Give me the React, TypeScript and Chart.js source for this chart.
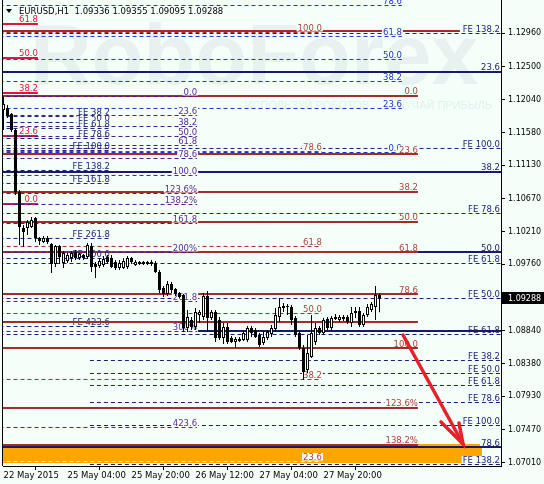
import React, { useEffect, useRef } from 'react';
import { Chart, registerables } from 'chart.js';

Chart.register(...registerables);

// ---------- axis ranges & ticks ----------
const Y_MIN = 1.06964;
const Y_MAX = 1.13421;
const X_MIN = -0.125;
const X_MAX = 124.375;
const Y_TICKS = [1.1296, 1.125, 1.1204, 1.1158, 1.1113, 1.1067, 1.1021, 1.0976, 1.0884, 1.0838, 1.0793, 1.0747, 1.0701];
const X_TICK_BARS = [0, 16, 32, 48, 64, 80];
const X_TICK_LABELS = ['22 May 2015', '25 May 04:00', '25 May 20:00', '26 May 12:00', '27 May 04:00', '27 May 20:00'];
const TITLE = 'EURUSD,H1  1.09336 1.09355 1.09095 1.09288';
const LAST_PRICE = 1.09288;

// ---------- H1 candles (bar 0 = 22 May 12:00) ----------
const OPEN = [
  1.11897, 1.11925, 1.11842, 1.1162, 1.10761, 1.10262, 1.10262, 1.10276, 1.10401, 1.10123,
  1.10068, 1.10123, 1.1004, 1.09763, 1.10013, 1.09777, 1.09805, 1.09846, 1.09929, 1.09846,
  1.09888, 1.0986, 1.10013, 1.09763, 1.09735, 1.09749, 1.0986, 1.09846, 1.09791, 1.09708,
  1.09708, 1.09722, 1.09846, 1.09749, 1.09791, 1.09763, 1.09791, 1.09791, 1.09777, 1.09652,
  1.0943, 1.09347, 1.09486, 1.09416, 1.09361, 1.09334, 1.08876, 1.08987, 1.0889, 1.09056,
  1.09029, 1.0932, 1.09015, 1.09098, 1.08987, 1.08738, 1.0889, 1.08738, 1.08682, 1.08696,
  1.0871, 1.0871, 1.08876, 1.08849, 1.08779, 1.08668, 1.08738, 1.08793, 1.08863, 1.09029,
  1.09153, 1.09167, 1.09167, 1.09015, 1.08807, 1.08599, 1.08294, 1.08474, 1.08682, 1.08876,
  1.08807, 1.09001, 1.08876, 1.09001, 1.08987, 1.09029, 1.09029, 1.08946, 1.09084, 1.09112,
  1.08918, 1.09056, 1.09126, 1.09167, 1.09336,
];
const HIGH = [
  1.12077, 1.11966, 1.11856, 1.11634, 1.10789, 1.10304, 1.10373, 1.10415, 1.10415, 1.10137,
  1.10151, 1.10151, 1.10054, 1.10026, 1.10026, 1.09943, 1.09916, 1.09943, 1.09957, 1.09916,
  1.09902, 1.10054, 1.10054, 1.09791, 1.09846, 1.09874, 1.09888, 1.09888, 1.09819, 1.09819,
  1.09846, 1.09874, 1.0986, 1.09819, 1.09805, 1.09805, 1.09805, 1.09819, 1.09805, 1.0968,
  1.09458, 1.09528, 1.09514, 1.0943, 1.09375, 1.09347, 1.09126, 1.09029, 1.09153, 1.09126,
  1.09361, 1.09389, 1.09126, 1.09126, 1.09029, 1.08946, 1.08946, 1.08766, 1.08752, 1.08752,
  1.08835, 1.08904, 1.08904, 1.08876, 1.08807, 1.08821, 1.08849, 1.08918, 1.09153, 1.09292,
  1.09223, 1.09209, 1.09195, 1.09043, 1.08835, 1.08641, 1.08779, 1.09056, 1.08946, 1.08904,
  1.09015, 1.09029, 1.09043, 1.0907, 1.09056, 1.09056, 1.09056, 1.09167, 1.09167, 1.09167,
  1.09084, 1.09209, 1.09237, 1.09458, 1.09355,
];
const LOW = [
  1.1162, 1.11786, 1.11592, 1.10719, 1.10026, 1.09999, 1.10165, 1.10262, 1.10068, 1.10026,
  1.10054, 1.1004, 1.09638, 1.09722, 1.09763, 1.09708, 1.09777, 1.09791, 1.09819, 1.09819,
  1.09819, 1.09832, 1.09652, 1.09569, 1.09708, 1.09722, 1.09763, 1.09708, 1.0968, 1.0968,
  1.09694, 1.09694, 1.09763, 1.09735, 1.09749, 1.09749, 1.09749, 1.09735, 1.09638, 1.09361,
  1.09306, 1.0932, 1.09361, 1.0932, 1.09292, 1.08821, 1.08821, 1.08849, 1.08849, 1.08946,
  1.08987, 1.08821, 1.08987, 1.08682, 1.0871, 1.08655, 1.08655, 1.08668, 1.08599, 1.08682,
  1.08696, 1.08682, 1.08752, 1.08738, 1.08613, 1.08641, 1.0871, 1.08752, 1.08835, 1.0896,
  1.09098, 1.09056, 1.08918, 1.08752, 1.08571, 1.08156, 1.08253, 1.08461, 1.08641, 1.08779,
  1.08779, 1.08849, 1.08849, 1.08987, 1.0896, 1.08973, 1.08932, 1.0889, 1.09015, 1.0889,
  1.0889, 1.09029, 1.09098, 1.08987, 1.09095,
];
const CLOSE = [
  1.1198, 1.11814, 1.1162, 1.10761, 1.10276, 1.10207, 1.10345, 1.10373, 1.10123, 1.10082,
  1.10123, 1.10068, 1.09763, 1.10013, 1.0986, 1.09916, 1.09888, 1.09916, 1.09846, 1.09902,
  1.09846, 1.10026, 1.09722, 1.09722, 1.09805, 1.09832, 1.09791, 1.09722, 1.09708, 1.09777,
  1.09805, 1.09846, 1.09791, 1.09791, 1.09763, 1.09791, 1.09763, 1.09763, 1.09652, 1.09403,
  1.09347, 1.09486, 1.09403, 1.09347, 1.09306, 1.08876, 1.09029, 1.0889, 1.09098, 1.09098,
  1.0932, 1.09015, 1.09098, 1.08738, 1.08738, 1.0889, 1.08682, 1.08682, 1.08724, 1.08724,
  1.08807, 1.08876, 1.08807, 1.08752, 1.08641, 1.08752, 1.08821, 1.08876, 1.09056, 1.09167,
  1.09181, 1.09181, 1.08987, 1.08779, 1.08599, 1.08267, 1.0853, 1.08807, 1.08876, 1.08807,
  1.08987, 1.08876, 1.09015, 1.09029, 1.09029, 1.09001, 1.0896, 1.09084, 1.09112, 1.08918,
  1.09056, 1.09167, 1.09209, 1.09334, 1.09288,
];

// ---------- drawn objects (prices, labels, bar-index spans) ----------
const RECT_TOP = 1.07269;
const RECT_BOTTOM = 1.07006;
const RECT_SPAN = [-1, 119.6];

const LINE_TOP_LABELS = [''];
const LINE_TOP_PRICES = [1.12992];
const LINE_TOP_SPAN = [-1, 114.1];

const FE_LEFT_LABELS = ['FE 38.2', 'FE 50.0', 'FE 61.8', 'FE 78.6', 'FE 100.0', 'FE 138.2', 'FE 161.8', 'FE 261.8', 'FE 300.0', 'FE 423.6'];
const FE_LEFT_PRICES = [1.11807, 1.11724, 1.11641, 1.11502, 1.11336, 1.11059, 1.10879, 1.10117, 1.09839, 1.08897];
const FE_LEFT_SPAN = [-1, 26.6];

const FE_A_LABELS = ['FE 138.2', 'FE 100.0', 'FE 78.6', 'FE 61.8', 'FE 50.0'];
const FE_A_PRICES = [1.12957, 1.11364, 1.10463, 1.0977, 1.09285];
const FE_A_SPAN = [-1, 126];

const FE_C_LABELS = ['FE 61.8'];
const FE_C_PRICES = [1.08786];
const FE_C_SPAN = [-1, 126];

const FE_B_LABELS = ['FE 38.2', 'FE 50.0', 'FE 61.8', 'FE 78.6', 'FE 100.0', 'FE 138.2'];
const FE_B_PRICES = [1.08426, 1.08246, 1.0808, 1.07844, 1.07525, 1.06985];
const FE_B_SPAN = [21.6, 126];

const NAVY_LABELS = ['23.6', '38.2', '50.0', '', '78.6'];
const NAVY_PRICES = [1.12424, 1.11038, 1.09929, 1.08835, 1.07227];
const NAVY_FROM = [-1, -1, -1, 48.6, -1];
const NAVY_SPAN = [-1, 126];

const CRIMSON_LABELS = ['61.8', '50.0', '38.2', '23.6', '0.0'];
const CRIMSON_PRICES = [1.13089, 1.12618, 1.12133, 1.11537, 1.10595];
const CRIMSON_SPAN = [-1, 8.6];

const BLUE_LABELS = ['78.6', '61.8', '50.0', '38.2', '23.6', '0.0'];
const BLUE_PRICES = [1.13345, 1.12916, 1.12597, 1.12292, 1.11918, 1.11308];
const BLUE_SPAN = [-1, 99.6];

const BROWN_LABELS = ['0.0', '23.6', '38.2', '50.0', '61.8', '78.6', '', '100.0', '123.6%', '138.2%'];
const BROWN_PRICES = [1.12091, 1.11287, 1.10761, 1.10345, 1.09929, 1.09347, 1.08959, 1.08599, 1.07768, 1.07255];
const BROWN_SPAN = [-1, 103.6];

const BROWN_DASH_LABELS = ['100.0', '78.6', '61.8', '50.0', '38.2', '23.6'];
const BROWN_DASH_PRICES = [1.12971, 1.11322, 1.10006, 1.09077, 1.08163, 1.07026];
const BROWN_DASH_SPAN = [-1, 79.6];

const PURPLE_LABELS = ['0.0', '23.6', '38.2', '50.0', '61.8', '78.6', '100.0', '123.6%', '138.2%', '161.8', '200%', '261.8', '300%', '423.6'];
const PURPLE_PRICES = [1.12084, 1.11821, 1.11668, 1.1153, 1.11405, 1.11225, 1.1099, 1.1074, 1.10588, 1.10324, 1.09923, 1.09244, 1.08828, 1.07498];
const PURPLE_SPAN = [-1, 48.4];

const ARROW_SHAFT = [{ x: 99.875, y: 1.08779 }, { x: 114.875, y: 1.07269 }];
const ARROW_HEAD = [{ x: 109.375, y: 1.07574 }, { x: 114.875, y: 1.07269 }, { x: 113.875, y: 1.0756 }];

// ---------- styles ----------
const BG = '#F5FFFA';
const LABEL_FONT = '8.5px "DejaVu Sans"';
const STYLES: any = {
  feNavy: { color: '#1C1C78', width: 1, dash: [4, 3], text: '#1C1C78' },
  navySolid: { color: '#191970', width: 2, dash: [], text: '#191970' },
  crimson: { color: '#E0143C', width: 2, dash: [], text: '#E0143C' },
  blueDash: { color: '#2233CC', width: 1, dash: [4, 3], text: '#2233CC' },
  brownSolid: { color: '#A52A2A', width: 2, dash: [], text: '#A8433A' },
  brownDash: { color: '#A52A2A', width: 1, dash: [4, 3], text: '#A8433A' },
  purpleDash: { color: '#4B1A8C', width: 1, dash: [4, 3], text: '#5A2A9A' },
};
const BROWN_DASH_LINE_COLORS = ['', '', '', '', '', '#FFF3DC'];

const GROUPS: any[] = [
  { style: 'brownSolid', labels: LINE_TOP_LABELS, prices: LINE_TOP_PRICES, span: LINE_TOP_SPAN },
  { style: 'feNavy', labels: FE_LEFT_LABELS, prices: FE_LEFT_PRICES, span: FE_LEFT_SPAN },
  { style: 'feNavy', labels: FE_A_LABELS, prices: FE_A_PRICES, span: FE_A_SPAN },
  { style: 'feNavy', labels: FE_C_LABELS, prices: FE_C_PRICES, span: FE_C_SPAN },
  { style: 'feNavy', labels: FE_B_LABELS, prices: FE_B_PRICES, span: FE_B_SPAN },
  { style: 'navySolid', labels: NAVY_LABELS, prices: NAVY_PRICES, span: NAVY_SPAN, from: NAVY_FROM },
  { style: 'crimson', labels: CRIMSON_LABELS, prices: CRIMSON_PRICES, span: CRIMSON_SPAN },
  { style: 'blueDash', labels: BLUE_LABELS, prices: BLUE_PRICES, span: BLUE_SPAN },
  { style: 'brownSolid', labels: BROWN_LABELS, prices: BROWN_PRICES, span: BROWN_SPAN },
  { style: 'brownDash', labels: BROWN_DASH_LABELS, prices: BROWN_DASH_PRICES, span: BROWN_DASH_SPAN, lineColors: BROWN_DASH_LINE_COLORS },
  { style: 'purpleDash', labels: PURPLE_LABELS, prices: PURPLE_PRICES, span: PURPLE_SPAN },
];

function buildDatasets() {
  const ds: any[] = [];
  let seq = 0;
  const push = (d: any) => {
    d.order = 10000 - seq++;
    ds.push(d);
  };
  push({
    type: 'line',
    data: [{ x: RECT_SPAN[0], y: RECT_TOP }, { x: RECT_SPAN[1], y: RECT_TOP }],
    borderWidth: 1,
    borderColor: 'rgba(0,0,0,0)',
    pointRadius: 0,
    fill: { value: RECT_BOTTOM },
    backgroundColor: '#FFA500',
    clip: 0,
  });
  GROUPS.forEach((g, gi) => {
    const st = STYLES[g.style];
    g.prices.forEach((p: number, li: number) => {
      const from = g.from ? g.from[li] : g.span[0];
      const color = (g.lineColors && g.lineColors[li]) || st.color;
      push({
        type: 'line',
        data: [{ x: from, y: p }, { x: g.span[1], y: p }],
        borderColor: color,
        borderWidth: st.width,
        borderDash: st.dash,
        pointRadius: 0,
        fill: false,
        clip: 0,
        labelGroup: li === g.prices.length - 1 ? gi : undefined,
      });
    });
  });
  const idx = OPEN.map((_, i) => i);
  ds.push({
    type: 'bar',
    data: idx.map((i) => ({ x: i, y: [LOW[i], HIGH[i]] })),
    backgroundColor: '#000000',
    borderWidth: 0,
    barThickness: 1,
    grouped: false,
    inflateAmount: 0,
    order: 2,
  });
  ds.push({
    type: 'bar',
    data: idx.map((i) => ({ x: i, y: [OPEN[i], CLOSE[i]] })),
    backgroundColor: idx.map((i) => (CLOSE[i] >= OPEN[i] ? '#FFFFFF' : '#000000')),
    borderColor: '#000000',
    borderWidth: 1,
    borderSkipped: false,
    barThickness: 3,
    grouped: false,
    inflateAmount: 0,
    minBarLength: 1,
    order: 1,
  });
  ds.push({
    type: 'line',
    data: ARROW_SHAFT,
    borderColor: '#E8202A',
    borderWidth: 3.5,
    pointRadius: 0,
    fill: false,
    borderCapStyle: 'round',
    order: 0,
  });
  ds.push({
    type: 'line',
    data: ARROW_HEAD,
    borderColor: '#E8202A',
    borderWidth: 3.5,
    pointRadius: 0,
    fill: false,
    borderCapStyle: 'round',
    borderJoinStyle: 'miter',
    order: -1,
  });
  return ds;
}

const bgPlugin = {
  id: 'bgFill',
  beforeDraw(chart: any) {
    const { ctx, width, height } = chart;
    ctx.save();
    ctx.fillStyle = BG;
    ctx.fillRect(0, 0, width, height);
    ctx.restore();
  },
  beforeDatasetsDraw(chart: any) {
    const { ctx } = chart;
    ctx.save();
    ctx.fillStyle = 'rgba(175,190,200,0.2)';
    ctx.font = 'bold 85px "Liberation Sans"';
    ctx.textAlign = 'left';
    ctx.textBaseline = 'alphabetic';
    ctx.fillText('RoboForex', 30, 84);
    ctx.font = '11px "Liberation Sans"';
    ctx.fillStyle = 'rgba(175,190,200,0.25)';
    ctx.textAlign = 'right';
    ctx.fillText('ИСПОЛЬЗУЙ РОБОТОВ – ПОЛУЧАЙ ПРИБЫЛЬ', 492, 109);
    ctx.restore();
  },
};

const labelPlugin = {
  id: 'fibLabels',
  afterDatasetDraw(chart: any, args: any) {
    const ds = chart.data.datasets[args.index];
    if (!ds || ds.labelGroup === undefined) return;
    const g = GROUPS[ds.labelGroup];
    const st = STYLES[g.style];
    const { ctx, chartArea } = chart;
    const xs = chart.scales.x;
    const ys = chart.scales.y;
    ctx.save();
    ctx.beginPath();
    ctx.rect(chartArea.left, chartArea.top, chartArea.right - chartArea.left, chartArea.bottom - chartArea.top);
    ctx.clip();
    ctx.font = LABEL_FONT;
    ctx.textAlign = 'right';
    ctx.textBaseline = 'alphabetic';
    g.labels.forEach((t: string, li: number) => {
      if (!t) return;
      const lx = Math.min(xs.getPixelForValue(g.span[1]), chartArea.right - 1);
      const ly = ys.getPixelForValue(g.prices[li]) - 1.5;
      const w = ctx.measureText(t).width;
      ctx.fillStyle = BG;
      ctx.fillRect(lx - w - 1, ly - 7, w + 2, 7.5);
      ctx.fillStyle = st.text;
      ctx.fillText(t, lx, ly);
    });
    ctx.restore();
  },
  afterDraw(chart: any) {
    const { ctx, chartArea } = chart;
    const ys = chart.scales.y;
    ctx.save();
    // left frame
    ctx.strokeStyle = '#000';
    ctx.lineWidth = 1;
    ctx.beginPath();
    ctx.moveTo(chartArea.left - 0.5, 0);
    ctx.lineTo(chartArea.left - 0.5, chartArea.bottom);
    ctx.stroke();
    // title
    ctx.fillStyle = '#000';
    ctx.beginPath();
    ctx.moveTo(6, 9);
    ctx.lineTo(12, 9);
    ctx.lineTo(9, 13);
    ctx.closePath();
    ctx.fill();
    ctx.font = '8.5px "DejaVu Sans"';
    ctx.textAlign = 'left';
    ctx.textBaseline = 'alphabetic';
    ctx.fillText(TITLE, 19, 13.5);
    // current price box
    const py = ys.getPixelForValue(LAST_PRICE);
    ctx.fillStyle = '#000';
    ctx.fillRect(chartArea.right + 1, Math.round(py) - 6, 43, 12);
    ctx.fillStyle = '#FFF';
    ctx.font = '8px "DejaVu Sans"';
    ctx.textBaseline = 'middle';
    ctx.fillText(LAST_PRICE.toFixed(5), chartArea.right + 7, Math.round(py) + 0.5);
    ctx.restore();
  },
};

export default function App() {
  const ref = useRef<HTMLCanvasElement>(null);
  useEffect(() => {
    document.body.style.margin = '0';
    document.body.style.background = BG;
    Chart.defaults.font.family = '"DejaVu Sans", sans-serif';
    const chart = new Chart(ref.current as HTMLCanvasElement, {
      type: 'line',
      data: { datasets: buildDatasets() },
      options: {
        animation: false,
        responsive: false,
        devicePixelRatio: 1,
        events: [],
        layout: { padding: { left: 3, top: 0, right: 0, bottom: 0 } },
        plugins: { legend: { display: false }, tooltip: { enabled: false }, title: { display: false } },
        scales: {
          x: {
            type: 'linear',
            position: 'bottom',
            min: X_MIN,
            max: X_MAX,
            offset: false,
            afterBuildTicks: (s: any) => {
              s.ticks = X_TICK_BARS.map((v) => ({ value: v }));
            },
            afterFit: (s: any) => {
              s.height = 18;
              s.paddingLeft = 0;
              s.paddingRight = 0;
            },
            ticks: {
              autoSkip: false,
              maxRotation: 0,
              minRotation: 0,
              align: 'start',
              padding: 1,
              color: '#000',
              font: { size: 8.5, family: '"DejaVu Sans"' },
              callback: (v: any) => {
                const k = X_TICK_BARS.indexOf(Number(v));
                return k >= 0 ? X_TICK_LABELS[k] : '';
              },
            },
            grid: { display: true, drawOnChartArea: false, drawTicks: true, tickLength: 4, color: '#000' },
            border: { display: true, color: '#000', width: 1 },
          },
          y: {
            type: 'linear',
            position: 'right',
            min: Y_MIN,
            max: Y_MAX,
            afterBuildTicks: (s: any) => {
              s.ticks = Y_TICKS.map((v) => ({ value: v }));
            },
            afterFit: (s: any) => {
              s.width = 43;
              s.paddingTop = 0;
              s.paddingBottom = 0;
            },
            ticks: {
              autoSkip: false,
              padding: 3,
              color: '#000',
              font: { size: 8, family: '"DejaVu Sans"' },
              callback: (v: any) => Number(v).toFixed(5),
            },
            grid: { display: true, drawOnChartArea: false, drawTicks: true, tickLength: 4, color: '#000' },
            border: { display: true, color: '#000', width: 1 },
          },
        },
      } as any,
      plugins: [bgPlugin, labelPlugin],
    } as any);
    return () => chart.destroy();
  }, []);
  return (
    <div style={{ width: 544, height: 484, position: 'relative' }}>
      <canvas ref={ref} width={544} height={484} style={{ display: 'block', width: 544, height: 484 }} />
    </div>
  );
}
